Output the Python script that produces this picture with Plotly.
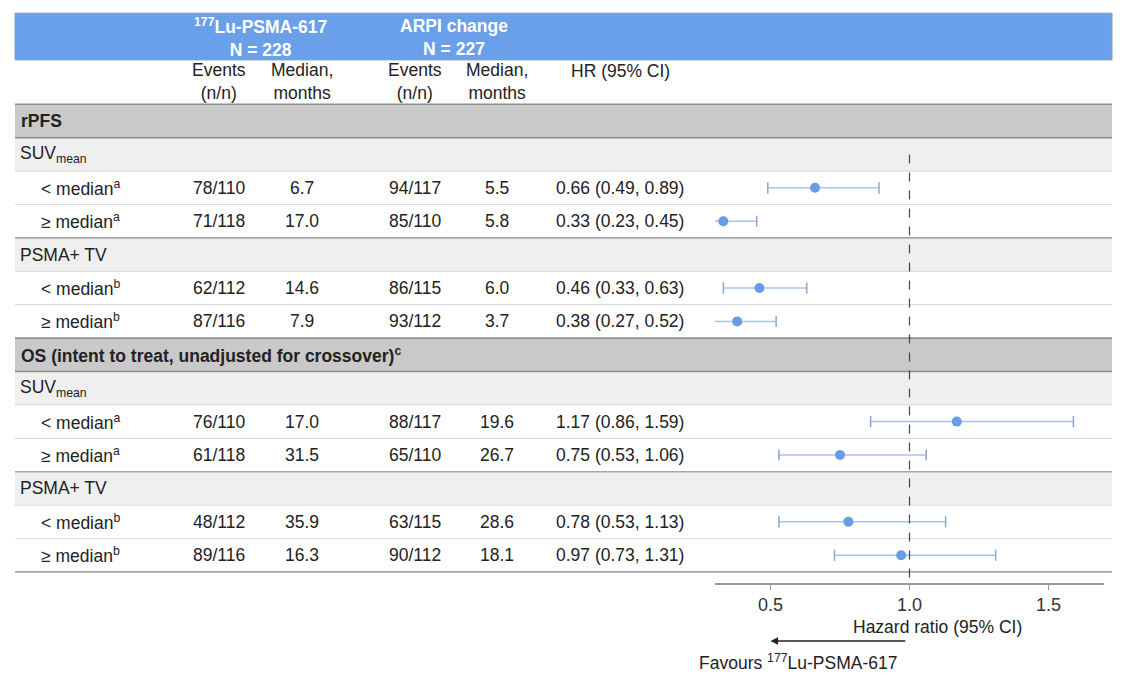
import plotly.graph_objs as go

# table rows, top to bottom
row_labels = ["rPFS", "SUV<sub>mean</sub>", "< median<sup>a</sup>", "≥ median<sup>a</sup>",
              "PSMA+ TV", "< median<sup>b</sup>", "≥ median<sup>b</sup>",
              "OS (intent to treat, unadjusted for crossover)<sup>c</sup>",
              "SUV<sub>mean</sub>", "< median<sup>a</sup>", "≥ median<sup>a</sup>",
              "PSMA+ TV", "< median<sup>b</sup>", "≥ median<sup>b</sup>"]
row_kind = ["section", "sub", "data", "data", "sub", "data", "data",
            "section", "sub", "data", "data", "sub", "data", "data"]

# values for the data rows only
events_lu = ["78/110", "71/118", "62/112", "87/116", "76/110", "61/118", "48/112", "89/116"]
median_lu = ["6.7", "17.0", "14.6", "7.9", "17.0", "31.5", "35.9", "16.3"]
events_arpi = ["94/117", "85/110", "86/115", "93/112", "88/117", "65/110", "63/115", "90/112"]
median_arpi = ["5.5", "5.8", "6.0", "3.7", "19.6", "26.7", "28.6", "18.1"]
hr = [0.66, 0.33, 0.46, 0.38, 1.17, 0.75, 0.78, 0.97]
hr_lo = [0.49, 0.23, 0.33, 0.27, 0.86, 0.53, 0.53, 0.73]
hr_hi = [0.89, 0.45, 0.63, 0.52, 1.59, 1.06, 1.13, 1.31]

col_headers = ["Events<br>(n/n)", "Median,<br>months", "Events<br>(n/n)", "Median,<br>months", "HR (95% CI)"]
arm_headers = ["<sup>177</sup>Lu-PSMA-617<br>N = 228", "ARPI change<br>N = 227"]
x_ticks = [0.5, 1.0, 1.5]

W, H = 1124, 680
FONT = "Liberation Sans, Arial, sans-serif"
TXT = "#222222"
BLUE = "#6aa0ea"
FS = 17.5

def px(x):
    return x / W

data_rows = [i for i, k in enumerate(row_kind) if k == "data"]
hr_text = ["%.2f (%.2f, %.2f)" % (h, l, u) for h, l, u in zip(hr, hr_lo, hr_hi)]

fig = go.Figure()

# CI lines
fig.add_trace(go.Scatter(
    x=hr, y=data_rows, mode="markers",
    marker=dict(size=0.1, color="rgba(0,0,0,0)"),
    error_x=dict(type="data", symmetric=False,
                 array=[u - h for h, u in zip(hr, hr_hi)],
                 arrayminus=[h - l for h, l in zip(hr, hr_lo)],
                 color="#a9c4ea", thickness=1.5, width=0),
    hoverinfo="skip", showlegend=False))
# caps
fig.add_trace(go.Scatter(
    x=hr_lo + hr_hi, y=data_rows + data_rows, mode="markers",
    marker=dict(symbol="line-ns", size=8, line=dict(color="#8ba6cc", width=1.5)),
    hoverinfo="skip", showlegend=False))
# point estimates
fig.add_trace(go.Scatter(
    x=hr, y=data_rows, mode="markers",
    marker=dict(size=10, color="#6a9be6"),
    showlegend=False))

shapes = []
ann = []
L, R = px(15), px(1112)

# header band
shapes.append(dict(type="rect", xref="paper", yref="y", x0=L, x1=R, y0=-3.23, y1=-1.83,
                   fillcolor=BLUE, line=dict(color="#7f9fcc", width=1), layer="below"))
for txt, xc in zip(arm_headers, [260, 454]):
    ann.append(dict(text="<b>" + txt + "</b>", xref="paper", yref="y", x=px(xc), y=-2.5,
                    showarrow=False, xanchor="center", yanchor="middle",
                    font=dict(size=FS, color="white", family=FONT)))
for txt, xc in zip(col_headers, [219, 302, 415, 497, 620]):
    ann.append(dict(text=txt, xref="paper", yref="y", x=px(xc), y=-1.17 if "<br>" in txt else -1.5,
                    showarrow=False, xanchor="center", yanchor="middle",
                    font=dict(size=FS, color=TXT, family=FONT)))

# row bands and text
for i, (lab, kind) in enumerate(zip(row_labels, row_kind)):
    if kind == "section":
        shapes.append(dict(type="rect", xref="paper", yref="y", x0=L, x1=R, y0=i - 0.5, y1=i + 0.5,
                           fillcolor="#c9c9c9", line=dict(width=0), layer="below"))
        ann.append(dict(text="<b>" + lab + "</b>", xref="paper", yref="y", x=px(19), y=i,
                        showarrow=False, xanchor="left", yanchor="middle",
                        font=dict(size=FS, color=TXT, family=FONT)))
    elif kind == "sub":
        shapes.append(dict(type="rect", xref="paper", yref="y", x0=L, x1=R, y0=i - 0.5, y1=i + 0.5,
                           fillcolor="#efefef", line=dict(width=0), layer="below"))
        ann.append(dict(text=lab, xref="paper", yref="y", x=px(18), y=i,
                        showarrow=False, xanchor="left", yanchor="middle",
                        font=dict(size=FS, color=TXT, family=FONT)))
    else:
        ann.append(dict(text=lab, xref="paper", yref="y", x=px(39), y=i,
                        showarrow=False, xanchor="left", yanchor="middle",
                        font=dict(size=FS, color=TXT, family=FONT)))

for j, i in enumerate(data_rows):
    for txt, xc in zip([events_lu[j], median_lu[j], events_arpi[j], median_arpi[j], hr_text[j]],
                       [219, 302, 415, 497, 620]):
        ann.append(dict(text=txt, xref="paper", yref="y", x=px(xc), y=i,
                        showarrow=False, xanchor="center", yanchor="middle",
                        font=dict(size=FS, color=TXT, family=FONT)))

# row borders
n = len(row_kind)
for b in range(-1, n):
    above = row_kind[b] if b >= 0 else "header"
    below = row_kind[b + 1] if b + 1 < n else "end"
    if above in ("section", "header") or below == "section":
        col, w = "#8f8f8f", 1.6
    elif above == "data" and below in ("sub", "end"):
        col, w = "#a8a8a8", 1.6
    else:
        col, w = "#dddddd", 1.2
    shapes.append(dict(type="line", xref="paper", yref="y", x0=L, x1=R, y0=b + 0.5, y1=b + 0.5,
                       line=dict(color=col, width=w), layer="below"))

# reference line at HR = 1
shapes.append(dict(type="line", xref="x", yref="y", x0=1.0, x1=1.0, y0=1, y1=13.83,
                   line=dict(color="#444444", width=1.2, dash="dash")))

# axis title, arrow, favours text
ann.append(dict(text="Hazard ratio (95% CI)", xref="x", yref="paper", x=1.1, y=(H - 627) / H,
                showarrow=False, xanchor="center", yanchor="middle",
                font=dict(size=FS, color=TXT, family=FONT)))
ann.append(dict(text="", xref="x", yref="paper", x=0.5, y=(H - 641) / H,
                axref="x", ax=0.99, ayref="pixel", ay=0,
                showarrow=True, arrowhead=2, arrowsize=1, arrowwidth=1.5, arrowcolor="#222222"))
ann.append(dict(text="Favours <sup>177</sup>Lu-PSMA-617", xref="x", yref="paper", x=0.6, y=(H - 662) / H,
                showarrow=False, xanchor="center", yanchor="middle",
                font=dict(size=FS, color=TXT, family=FONT)))

fig.update_layout(
    width=W, height=H,
    margin=dict(l=0, r=0, t=0, b=0),
    paper_bgcolor="white",
    plot_bgcolor="rgba(0, 0, 0, 0)",
    shapes=shapes,
    annotations=ann,
    xaxis=dict(domain=[px(715), px(1104)], range=[0.3, 1.7],
               tickvals=x_ticks, ticktext=["%.1f" % t for t in x_ticks],
               showline=True, linecolor="#999999", linewidth=1.5,
               ticks="outside", ticklen=5, tickcolor="#999999",
               tickfont=dict(size=18, color="#333333", family=FONT),
               showgrid=False, zeroline=False),
    yaxis=dict(domain=[(H - 583) / H, 1], range=[13.832, -3.623],
               visible=False, showgrid=False, zeroline=False),
)

fig.write_html("out.html", config={"displayModeBar": False},
               post_script="document.body.style.margin='0';")
